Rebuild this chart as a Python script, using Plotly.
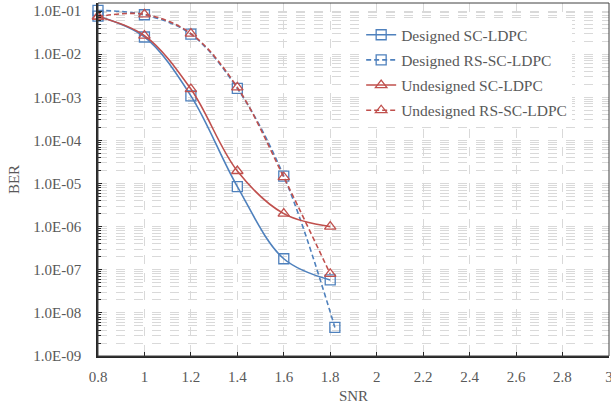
import plotly.graph_objects as go

snr = [0.8, 1.0, 1.2, 1.4, 1.6, 1.8]
snr_rs_designed = [0.8, 1.0, 1.2, 1.4, 1.6, 1.82]

ber_designed_sc = [0.076, 0.025, 1.08e-3, 8.5e-6, 1.8e-7, 5.8e-8]
ber_designed_rs = [0.103, 0.082, 0.029, 1.6e-3, 1.48e-5, 4.6e-9]
ber_undesigned_sc = [0.074, 0.027, 1.55e-3, 1.95e-5, 2.0e-6, 1.0e-6]
ber_undesigned_rs = [0.074, 0.084, 0.030, 1.7e-3, 1.4e-5, 8.0e-8]

names = ["Designed SC-LDPC", "Designed RS-SC-LDPC",
         "Undesigned SC-LDPC", "Undesigned RS-SC-LDPC"]

y_tick_vals = [1e-9, 1e-8, 1e-7, 1e-6, 1e-5, 1e-4, 1e-3, 1e-2, 1e-1]
y_tick_text = ["1.0E-09", "1.0E-08", "1.0E-07", "1.0E-06", "1.0E-05",
               "1.0E-04", "1.0E-03", "1.0E-02", "1.0E-01"]
x_tick_vals = [0.8, 1.0, 1.2, 1.4, 1.6, 1.8, 2.0, 2.2, 2.4, 2.6, 2.8, 3.0]
x_tick_text = ["0.8", "1", "1.2", "1.4", "1.6", "1.8", "2", "2.2", "2.4", "2.6", "2.8", "3"]

minor_vals = [m * 10.0 ** e for e in range(-9, 0) for m in range(2, 10)]

BLUE = "#4F81BD"
RED = "#C0504D"
FONT = "Liberation Serif, Times New Roman, serif"
GRAY = "#595959"
GRID = "#d9d9d9"

fig = go.Figure()
series = [
    (snr, ber_designed_sc, names[0], BLUE, "solid", "square-open"),
    (snr_rs_designed, ber_designed_rs, names[1], BLUE, "dash", "square-open"),
    (snr, ber_undesigned_sc, names[2], RED, "solid", "triangle-up-open"),
    (snr, ber_undesigned_rs, names[3], RED, "dash", "triangle-up-open"),
]
for i, (xs, ys, nm, col, dash, sym) in enumerate(series):
    fig.add_trace(go.Scatter(
        x=xs, y=ys, name=nm, mode="lines+markers",
        line=dict(color=col, width=1.6, dash="5px,3px" if dash == "dash" else "solid",
                  shape="spline", smoothing=1.0),
        marker=dict(symbol=sym, size=10, color=col, line=dict(width=1.3, color=col)),
        legendgroup=f"g{i}",
        cliponaxis=False,
    ))

fig.update_layout(
    width=611, height=411,
    margin=dict(l=98, r=2, t=3, b=55, autoexpand=False),
    paper_bgcolor="white", plot_bgcolor="white",
    font=dict(family=FONT, size=15, color=GRAY),
    legend=dict(x=0.515, y=0.957, xanchor="left", yanchor="top",
                bgcolor="white", borderwidth=0, tracegroupgap=2,
                font=dict(family=FONT, size=15.5, color=GRAY)),
    xaxis=dict(
        range=[0.8, 3.0005], tickvals=x_tick_vals, ticktext=x_tick_text,
        showgrid=True, gridcolor=GRID, griddash="dash", gridwidth=1,
        ticks="inside", ticklen=4, tickcolor="#262626",
        showline=True, linecolor="#262626", linewidth=1.5,
        zeroline=False, automargin=False, ticklabelstandoff=6,
        ticklabeloverflow="allow",
        title=dict(text="SNR", standoff=7, font=dict(family=FONT, size=15, color=GRAY)),
        tickfont=dict(family=FONT, size=15, color=GRAY),
    ),
    yaxis=dict(
        type="log", range=[-9, -0.814], tickvals=y_tick_vals, ticktext=y_tick_text,
        showgrid=True, gridcolor=GRID, griddash="dash", gridwidth=1,
        ticks="inside", ticklen=4, tickcolor="#262626",
        showline=True, linecolor="#262626", linewidth=1.5,
        zeroline=False, ticklabelstandoff=12, automargin=False,
        ticklabeloverflow="allow",
        minor=dict(tickvals=minor_vals, ticks="inside", ticklen=3, tickcolor="#262626",
                   showgrid=True, gridcolor=GRID, griddash="dash", gridwidth=1),
        title=dict(text="BER", standoff=10, font=dict(family=FONT, size=15, color=GRAY)),
        tickfont=dict(family=FONT, size=15, color=GRAY),
    ),
    shapes=[dict(type="rect", xref="paper", yref="paper", x0=0, x1=1, y0=0, y1=1,
                 line=dict(color="#404040", width=1), layer="above")],
)

fig.write_html("out.html", config={"displayModeBar": False},
               post_script="document.body.style.margin='0';document.body.style.padding='0';")
